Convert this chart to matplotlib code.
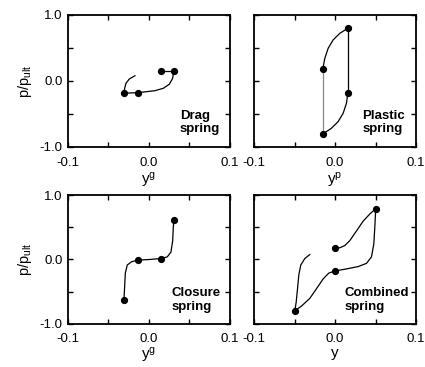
import matplotlib
matplotlib.use('Agg')
import matplotlib.pyplot as plt

plt.rcParams['font.family'] = ['Liberation Sans', 'DejaVu Sans']
plt.rcParams['mathtext.fontset'] = 'custom'
plt.rcParams['mathtext.rm'] = 'Liberation Sans'
plt.rcParams['mathtext.it'] = 'Liberation Sans'

# Drag spring
drag_a_x = [-0.0173, -0.0243, -0.0284, -0.0300, -0.0309]
drag_a_y = [0.080, 0.030, -0.035, -0.111, -0.185]
drag_b_x = [-0.0309, -0.0140]
drag_b_y = [-0.185, -0.177]
drag_c_x = [-0.0140, -0.0029, 0.0074, 0.0177, 0.0251, 0.0293, 0.0305]
drag_c_y = [-0.177, -0.162, -0.147, -0.111, -0.050, 0.041, 0.156]
drag_d_x = [0.0305, 0.0144]
drag_d_y = [0.156, 0.156]
drag_pts_x = [-0.0309, -0.0140, 0.0144, 0.0305]
drag_pts_y = [-0.185, -0.177, 0.156, 0.156]

# Plastic spring
plas_up_x = [-0.0152, -0.0127, -0.0086, -0.0025, 0.0058, 0.0157]
plas_up_y = [0.182, 0.344, 0.495, 0.621, 0.722, 0.798]
plas_rv_x = [0.0157, 0.0157]
plas_rv_y = [0.798, -0.187]
plas_dn_x = [0.0157, 0.0140, 0.0099, 0.0037, -0.0046, -0.0152]
plas_dn_y = [-0.187, -0.338, -0.490, -0.616, -0.717, -0.803]
plas_lv_x = [-0.0152, -0.0152]
plas_lv_y = [-0.803, 0.182]
plas_pts_x = [-0.0152, 0.0157, 0.0157, -0.0152]
plas_pts_y = [0.182, 0.798, -0.187, -0.803]

# Closure spring
clos_x = [-0.0309, -0.0300, -0.0292, -0.0268, -0.0214, -0.0132, 0.0012,
          0.0144, 0.0226, 0.0272, 0.0293, 0.0300, 0.0309]
clos_y = [-0.626, -0.414, -0.212, -0.086, -0.035, -0.010, 0.000,
          0.015, 0.040, 0.116, 0.293, 0.495, 0.621]
clos_pts_x = [-0.0309, -0.0132, 0.0144, 0.0309]
clos_pts_y = [-0.626, -0.010, 0.015, 0.621]

# Combined spring
comb_a_x = [-0.0313, -0.0374, -0.0424, -0.0448, -0.0465, -0.0481, -0.0498]
comb_a_y = [0.076, 0.015, -0.086, -0.238, -0.465, -0.667, -0.798]
comb_b_x = [-0.0498, -0.0416, -0.0313, -0.0230, -0.0148, -0.0078, 0.0004,
            0.0120, 0.0284, 0.0387, 0.0449, 0.0478, 0.0490, 0.0498, 0.0502]
comb_b_y = [-0.798, -0.727, -0.606, -0.455, -0.303, -0.212, -0.177,
            -0.152, -0.111, -0.061, 0.040, 0.242, 0.495, 0.697, 0.793]
comb_c_x = [0.0000, 0.0058, 0.0120, 0.0181, 0.0264, 0.0346, 0.0428, 0.0502]
comb_c_y = [0.177, 0.182, 0.217, 0.293, 0.444, 0.596, 0.707, 0.793]
comb_pts_x = [-0.0498, 0.0004, 0.0000, 0.0502]
comb_pts_y = [-0.798, -0.177, 0.177, 0.793]

x_ticks = [-0.1, -0.05, 0.0, 0.05, 0.1]
x_labels = ['-0.1', '', '0.0', '', '0.1']
y_ticks = [-1.0, -0.5, 0.0, 0.5, 1.0]
y_labels = ['-1.0', '', '0.0', '', '1.0']

fig = plt.figure(figsize=(4.25, 3.67), dpi=100)
boxes = [
    [0.160, 0.5995, 0.381, 0.3597],
    [0.598, 0.5995, 0.381, 0.3597],
    [0.160, 0.118, 0.381, 0.3500],
    [0.598, 0.118, 0.381, 0.3500],
]
axes = [fig.add_axes(b) for b in boxes]

xlabels = ['y$^{\\rm g}$', 'y$^{\\rm p}$', 'y$^{\\rm g}$', 'y']
names = ['Drag\nspring', 'Plastic\nspring', 'Closure\nspring', 'Combined\nspring']
name_x = [0.0383, 0.0337, 0.028, 0.0111]

lw = 0.9
ms = 4.2
ax = axes[0]
ax.plot(drag_a_x, drag_a_y, color='black', lw=lw)
ax.plot(drag_b_x, drag_b_y, color='black', lw=lw)
ax.plot(drag_c_x, drag_c_y, color='black', lw=lw)
ax.plot(drag_d_x, drag_d_y, color='black', lw=lw)
ax.plot(drag_pts_x, drag_pts_y, 'o', color='black', ms=ms)

ax = axes[1]
ax.plot(plas_up_x, plas_up_y, color='black', lw=lw)
ax.plot(plas_rv_x, plas_rv_y, color='black', lw=lw)
ax.plot(plas_dn_x, plas_dn_y, color='black', lw=lw)
ax.plot(plas_lv_x, plas_lv_y, color='#888888', lw=lw)
ax.plot(plas_pts_x, plas_pts_y, 'o', color='black', ms=ms)

ax = axes[2]
ax.plot(clos_x, clos_y, color='black', lw=lw)
ax.plot(clos_pts_x, clos_pts_y, 'o', color='black', ms=ms)

ax = axes[3]
ax.plot(comb_a_x, comb_a_y, color='black', lw=lw)
ax.plot(comb_b_x, comb_b_y, color='black', lw=lw)
ax.plot(comb_c_x, comb_c_y, color='black', lw=lw)
ax.plot(comb_pts_x, comb_pts_y, 'o', color='black', ms=ms)

for i, ax in enumerate(axes):
    ax.set_xlim(-0.1, 0.1)
    ax.set_ylim(-1.0, 1.0)
    ax.set_xticks(x_ticks)
    ax.set_xticklabels(x_labels)
    ax.set_yticks(y_ticks)
    if i % 2 == 0:
        ax.set_yticklabels(y_labels)
        ax.set_ylabel('p/p$_{\\rm ult}$', fontsize=10.5, labelpad=4)
    else:
        ax.set_yticklabels([])
    ax.tick_params(direction='in', top=True, right=True, length=3.5,
                   width=1.0, labelsize=9.5)
    ax.tick_params(axis='x', pad=7)
    ax.tick_params(axis='y', pad=4)
    for sp in ax.spines.values():
        sp.set_linewidth(1.3)
    ax.set_xlabel(xlabels[i], fontsize=11, labelpad=1.5 if i < 2 else 0.5)
    ax.text(name_x[i], -0.63, names[i], fontsize=9.5, fontweight='bold',
            ha='left', va='center', linespacing=1.15)

fig.savefig('out.png', dpi=100)
